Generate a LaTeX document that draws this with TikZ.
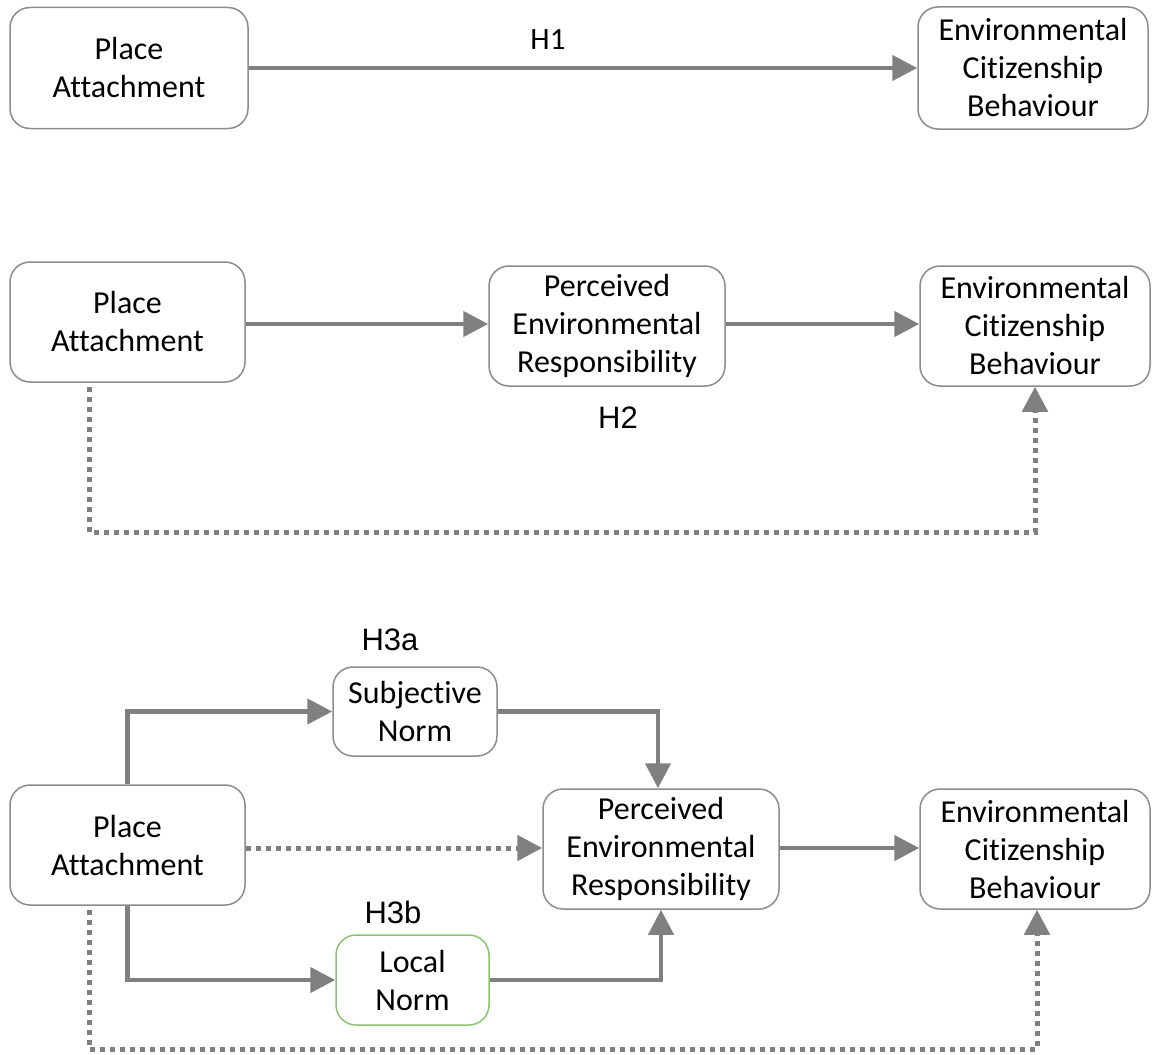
\documentclass[tikz,border=0pt]{standalone}
\usepackage{fontspec}
\setmainfont{Carlito}[Ligatures=NoCommon]
\newfontfamily\arialf{Liberation Sans}
\usetikzlibrary{arrows.meta}
\definecolor{lgray}{HTML}{808080}
\definecolor{bgray}{HTML}{8C8C8C}
\definecolor{bgreen}{HTML}{8DC26F}
\tikzset{
  box/.style={draw=bgray, line width=1.5pt, rounded corners=20pt, align=center,
    font=\fontsize{32}{38}\selectfont, inner sep=0pt, fill=white},
  arr/.style={draw=lgray, line width=4.5pt, -{Triangle[length=25pt,width=25pt]}},
  dotarr/.style={draw=lgray, line width=5pt, dash pattern=on 5pt off 5pt, -{Triangle[length=25pt,width=25pt]}},
  hlab/.style={font=\arialf\fontsize{31}{36}\selectfont},
}
\begin{document}
\begin{tikzpicture}[x=1pt,y=-1pt]
\useasboundingbox (0,0) rectangle (1155,1054);
% Row 1
\node[box, minimum width=238pt, minimum height=121pt] (pa1) at (129,68) {Place\\Attachment};
\node[box, minimum width=230pt, minimum height=122pt] (ecb1) at (1033,68) {Environmental\\Citizenship\\Behaviour};
\draw[arr] (pa1) -- (ecb1);
\node[font=\fontsize{31}{36}\selectfont] (h1) at (548,40) {H1};
% Row 2
\node[box, minimum width=235pt, minimum height=120pt] (pa2) at (127.5,322) {Place\\Attachment};
\node[box, minimum width=236pt, minimum height=120pt] (per2) at (607,326) {Perceived\\Environmental\\Responsibility};
\node[box, minimum width=230pt, minimum height=120pt] (ecb2) at (1035,326) {Environmental\\Citizenship\\Behaviour};
\draw[arr] (pa2.east |- 0,324) -- (per2.west |- 0,324);
\draw[arr] (per2.east |- 0,324) -- (ecb2.west |- 0,324);
\node[hlab] (h2) at (618,418) {H2};
\coordinate (d2a) at (89,387);
\coordinate (d2b) at (89,532);
\draw[dotarr] (d2a) -- (d2b) -| (ecb2.south);
% Row 3
\node[box, minimum width=235pt, minimum height=120pt] (pa3) at (127.5,845) {Place\\Attachment};
\node[box, minimum width=164pt, minimum height=89pt] (sn) at (415,711.5) {Subjective\\Norm};
\node[box, draw=bgreen, minimum width=153pt, minimum height=90pt] (ln) at (412.5,980) {Local\\Norm};
\node[box, minimum width=236pt, minimum height=120pt] (per3) at (661,849) {Perceived\\Environmental\\Responsibility};
\node[box, minimum width=230pt, minimum height=120pt] (ecb3) at (1035,849) {Environmental\\Citizenship\\Behaviour};
\node[hlab] (h3a) at (390,640) {H3a};
\node[hlab] (h3b) at (393,912) {H3b};
\draw[arr] (pa3.north) |- (sn.west);
\draw[arr] (sn.east) -| ([xshift=-3pt]per3.north);
\draw[arr] (pa3.south) |- (ln.west);
\draw[arr] (ln.east) -| (per3.south);
\draw[dotarr] (pa3.east |- 0,848) -- (per3.west |- 0,848);
\draw[arr] (per3.east |- 0,848) -- (ecb3.west |- 0,848);
\coordinate (d3a) at (89,910);
\coordinate (d3b) at (89,1049);
\draw[dotarr] (d3a) -- (d3b) -| ([xshift=2pt]ecb3.south);
\end{tikzpicture}
\end{document}
